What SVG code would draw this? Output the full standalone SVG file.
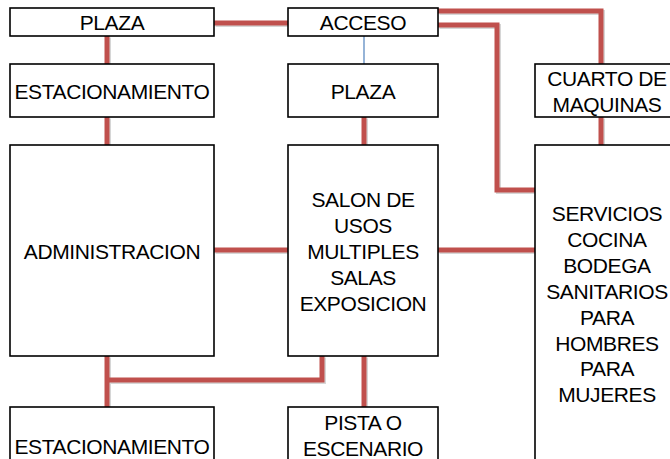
<svg xmlns="http://www.w3.org/2000/svg" width="670" height="459" viewBox="0 0 670 459">
<style>
.box{fill:#fff;stroke:#000;stroke-width:1.6}
.t{font-family:"Liberation Sans",Arial,sans-serif;font-size:21px;letter-spacing:-0.4px;fill:#000;text-anchor:middle;dominant-baseline:central}
.c{fill:none;stroke:#c0504d;stroke-width:5}
.s{fill:none;stroke:#bbb;stroke-width:5;opacity:0.6}
</style>
<rect width="670" height="459" fill="#fff"/>
<g id="connectors">
<g transform="translate(1.5,1.5)">
<path class="s" d="M214,23H288 M107,36V64 M107,117V145 M364,117V145 M438,11H601V64 M438,25H497V190H535 M601,117V145 M214,250H288 M438,250H535 M107,356V407 M107,380H322V356 M364,356V407"/>
</g>
<path class="c" d="M214,23H288"/>
<path class="c" d="M107,36V64"/>
<path class="c" d="M107,117V145"/>
<path d="M364,36V64" stroke="#4f81bd" stroke-width="1.2" fill="none"/>
<path class="c" d="M364,117V145"/>
<path class="c" d="M438,11H601V64"/>
<path class="c" d="M438,25H497V190H535"/>
<path class="c" d="M601,117V145"/>
<path class="c" d="M214,250H288"/>
<path class="c" d="M438,250H535"/>
<path class="c" d="M107,356V407"/>
<path class="c" d="M107,380H322V356"/>
<path class="c" d="M364,356V407"/>
</g>
<g id="plaza1"><rect class="box" x="10" y="8" width="204" height="28"/><text class="t" x="112" y="22">PLAZA</text></g>
<g id="acceso"><rect class="box" x="288" y="8" width="150" height="28"/><text class="t" x="363" y="22">ACCESO</text></g>
<g id="estacionamiento1"><rect class="box" x="10" y="64" width="204" height="53"/><text class="t" x="112" y="91">ESTACIONAMIENTO</text></g>
<g id="plaza2"><rect class="box" x="288" y="64" width="150" height="53"/><text class="t" x="363" y="91">PLAZA</text></g>
<g id="cuarto"><rect class="box" x="535" y="64" width="145" height="53"/><text class="t" x="607" y="78">CUARTO DE</text><text class="t" x="607" y="104">MAQUINAS</text></g>
<g id="administracion"><rect class="box" x="10" y="145" width="204" height="211"/><text class="t" x="112" y="251">ADMINISTRACION</text></g>
<g id="salon"><rect class="box" x="288" y="145" width="150" height="211"/>
<text class="t" x="363" y="199">SALON DE</text><text class="t" x="363" y="225">USOS</text><text class="t" x="363" y="251">MULTIPLES</text><text class="t" x="363" y="277">SALAS</text><text class="t" x="363" y="303">EXPOSICION</text></g>
<g id="servicios"><rect class="box" x="535" y="145" width="145" height="330"/>
<text class="t" x="607" y="213">SERVICIOS</text><text class="t" x="607" y="239">COCINA</text><text class="t" x="607" y="265">BODEGA</text><text class="t" x="607" y="291">SANITARIOS</text><text class="t" x="607" y="317">PARA</text><text class="t" x="607" y="343">HOMBRES</text><text class="t" x="607" y="368">PARA</text><text class="t" x="607" y="394">MUJERES</text></g>
<g id="estacionamiento2"><rect class="box" x="10" y="407" width="204" height="70"/><text class="t" x="112" y="446">ESTACIONAMIENTO</text></g>
<g id="pista"><rect class="box" x="288" y="407" width="150" height="70"/><text class="t" x="363" y="422">PISTA O</text><text class="t" x="363" y="448">ESCENARIO</text></g>
</svg>
